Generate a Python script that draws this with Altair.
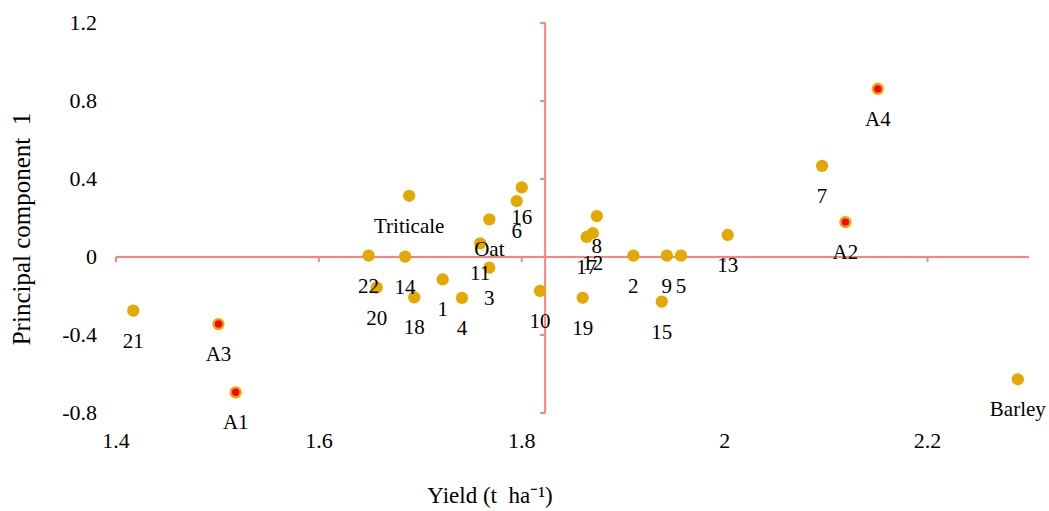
import altair as alt
import pandas as pd

labels = ["21", "A3", "A1", "22", "20", "14", "Triticale", "18", "1", "4",
          "11", "Oat", "3", "6", "16", "10", "19", "17", "12", "8",
          "2", "9", "5", "15", "13", "7", "A2", "A4", "Barley"]
yield_t = [1.417, 1.501, 1.518, 1.649, 1.657, 1.685, 1.689, 1.694, 1.722, 1.741,
           1.759, 1.768, 1.768, 1.795, 1.800, 1.818, 1.860, 1.864, 1.870, 1.874,
           1.910, 1.943, 1.957, 1.938, 2.003, 2.096, 2.119, 2.151, 2.289]
pc1 = [-0.275, -0.344, -0.694, 0.007, -0.157, 0.002, 0.314, -0.207, -0.115, -0.210,
       0.070, 0.193, -0.055, 0.287, 0.357, -0.174, -0.209, 0.103, 0.122, 0.210,
       0.007, 0.007, 0.007, -0.229, 0.113, 0.467, 0.179, 0.862, -0.627]
a_points = ["A1", "A2", "A3", "A4"]

x_ticks = [1.4, 1.6, 1.8, 2.0, 2.2]
x_tick_labels = ["1.4", "1.6", "1.8", "2", "2.2"]
y_ticks = [-0.8, -0.4, 0.0, 0.4, 0.8, 1.2]
y_tick_labels = ["-0.8", "-0.4", "0", "0.4", "0.8", "1.2"]
x_domain = [1.4, 2.3]
y_domain = [-0.8, 1.2]
x_cross = 1.823
x_title = "Yield (t\u00a0 ha\u207b\u00b9)"
y_title = "Principal component\u00a0 1"

df = pd.DataFrame({"label": labels, "yield": yield_t, "pc1": pc1})
df["isA"] = df["label"].isin(a_points)
xt = pd.DataFrame({"t": x_ticks, "lab": x_tick_labels})
yt = pd.DataFrame({"t": y_ticks, "lab": y_tick_labels})

FONT = "Liberation Serif"
GOLD = "#E5A800"
AXIS_RED = "#FF8080"

xs = alt.Scale(domain=x_domain, nice=False, zero=False)
ys = alt.Scale(domain=y_domain, nice=False, zero=False)

base = alt.Chart(df)

points = base.mark_circle(size=150, color=GOLD, opacity=1).encode(
    x=alt.X("yield:Q", scale=xs, axis=None),
    y=alt.Y("pc1:Q", scale=ys, axis=None),
)
red = base.transform_filter("datum.isA").mark_circle(size=55, color="#FF0000", opacity=1).encode(
    x=alt.X("yield:Q", scale=xs, axis=None), y=alt.Y("pc1:Q", scale=ys, axis=None)
)
text = base.mark_text(font=FONT, fontSize=21, color="black", dy=31, baseline="middle").encode(
    x=alt.X("yield:Q", scale=xs, axis=None), y=alt.Y("pc1:Q", scale=ys, axis=None), text="label:N"
)

hline = alt.Chart(pd.DataFrame({"x": [x_domain[0]], "x2": [x_domain[1]]})).mark_rule(
    color=AXIS_RED, strokeWidth=2).encode(
    x=alt.X("x:Q", scale=xs, axis=None), x2="x2:Q", y=alt.datum(0, scale=ys, axis=None))
vline = alt.Chart(pd.DataFrame({"y": [y_domain[0]], "y2": [y_domain[1]]})).mark_rule(
    color=AXIS_RED, strokeWidth=2).encode(
    y=alt.Y("y:Q", scale=ys, axis=None), y2="y2:Q", x=alt.datum(x_cross, scale=xs, axis=None))
xtick_marks = alt.Chart(xt).mark_rule(
    color=AXIS_RED, strokeWidth=2, y2Offset=5).encode(
    x=alt.X("t:Q", scale=xs, axis=None), y=alt.datum(0, scale=ys, axis=None), y2=alt.datum(0))
ytick_marks = alt.Chart(yt).mark_rule(
    color=AXIS_RED, strokeWidth=2, x2Offset=-5).encode(
    y=alt.Y("t:Q", scale=ys, axis=None), x=alt.datum(x_cross, scale=xs, axis=None), x2=alt.datum(x_cross))

xlabels = alt.Chart(xt).mark_text(font=FONT, fontSize=22, color="black", baseline="middle",
                                  align="center", dy=28).encode(
    x=alt.X("t:Q", scale=xs, axis=None), y=alt.datum(y_domain[0], scale=ys, axis=None), text="lab:N")
ylabels = alt.Chart(yt).mark_text(font=FONT, fontSize=22, color="black", baseline="middle",
                                  align="right", dx=-19).encode(
    y=alt.Y("t:Q", scale=ys, axis=None), x=alt.datum(x_domain[0], scale=xs, axis=None), text="lab:N")

xtitle = alt.Chart(pd.DataFrame({"t": [x_title]})).mark_text(
    font=FONT, fontSize=23, color="black", baseline="middle", align="center").encode(
    x=alt.value(374), y=alt.value(473), text="t:N")
ytitle = alt.Chart(pd.DataFrame({"t": [y_title]})).mark_text(
    font=FONT, fontSize=25, color="black", baseline="middle", align="center", angle=270).encode(
    x=alt.value(-94), y=alt.value(206), text="t:N")

chart = alt.layer(hline, vline, xtick_marks, ytick_marks, points, red, text,
                  xlabels, ylabels, xtitle, ytitle).properties(
    width=913, height=390,
    autosize=alt.AutoSizeParams(type="none"),
    padding={"left": 116, "top": 23, "right": 20, "bottom": 98},
    background="white",
).configure_view(stroke=None)

chart.save("out.html", embed_options={"renderer": "svg", "actions": False})
